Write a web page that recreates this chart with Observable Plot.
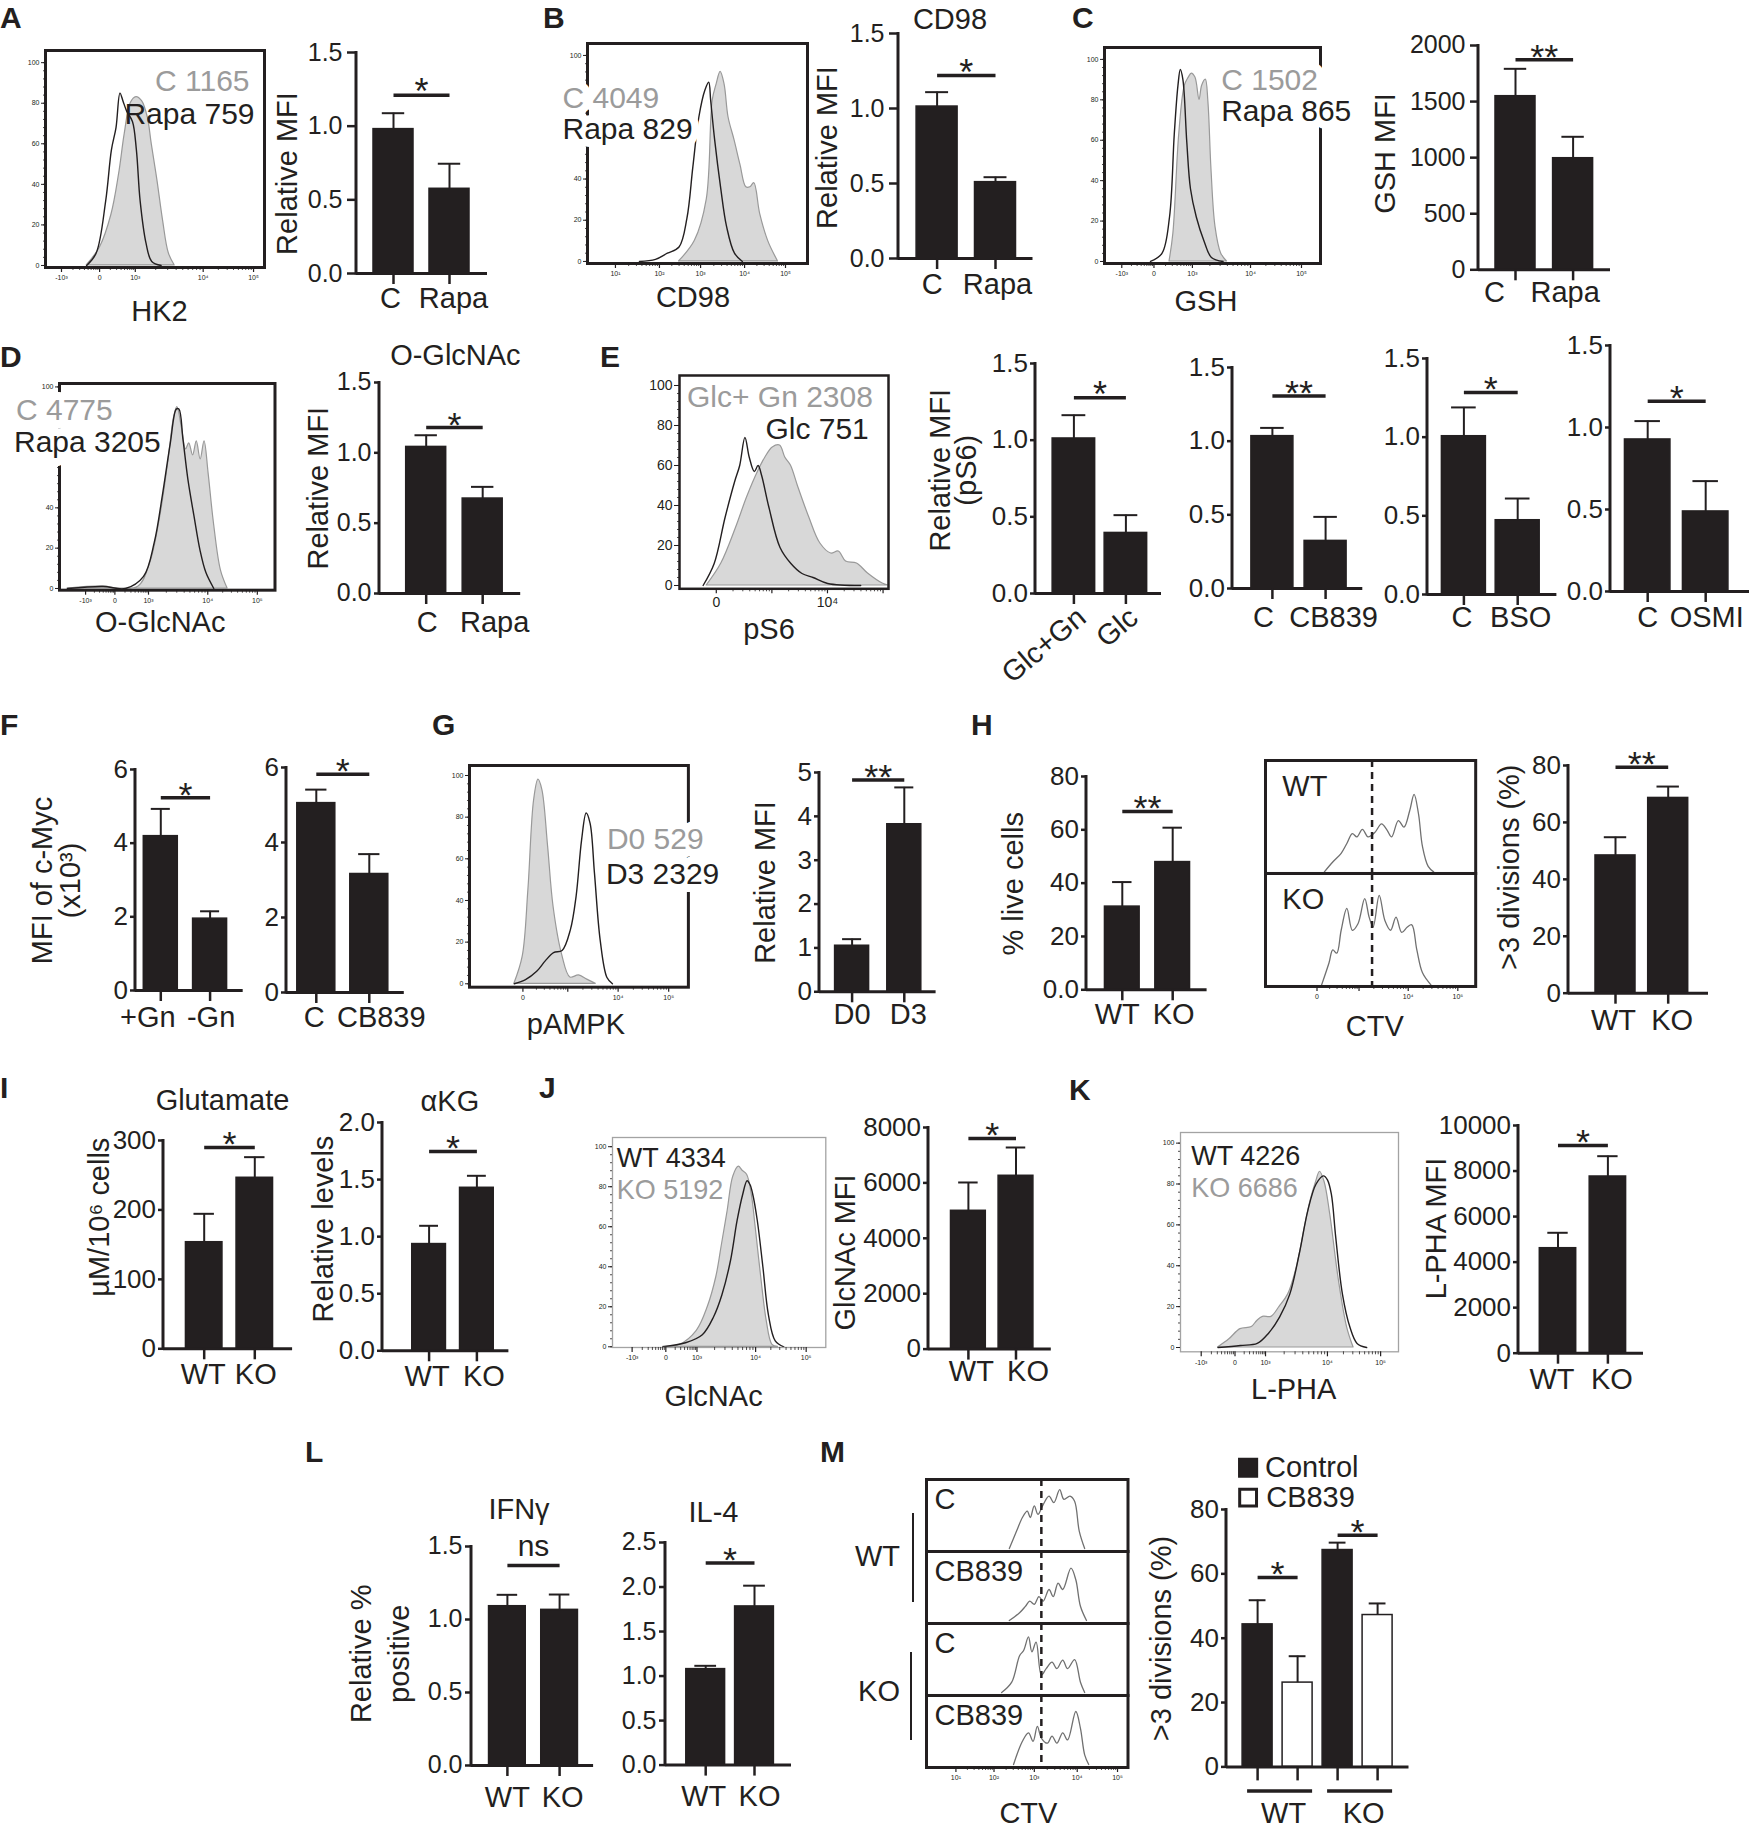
<!DOCTYPE html>
<html><head><meta charset="utf-8">
<script src="https://cdn.jsdelivr.net/npm/d3@7"></script>
<script src="https://cdn.jsdelivr.net/npm/@observablehq/plot@0.6"></script>
<style>
html,body{margin:0;padding:0;background:#fff;}
#fig{position:relative;width:1749px;height:1829px;overflow:hidden;background:#fff;font-family:"Liberation Sans",Arial,Helvetica,sans-serif;color:#231f20;}
.t{position:absolute;line-height:1;white-space:nowrap;}
.v{position:absolute;background:#231f20;}
</style></head><body><div id="fig"></div>
<script>
// ================= DATA =================
// categories
const catsCRapa = ["C", "Rapa"];
const catsWTKO = ["WT", "KO"];
const catsE1 = ["Glc+Gn", "Glc"];
const catsCB = ["C", "CB839"];
const catsBSO = ["C", "BSO"];
const catsOSMI = ["C", "OSMI"];
const catsGn = ["+Gn", "-Gn"];
const catsDay = ["D0", "D3"];
const catsM = ["WT Control", "WT CB839", "KO Control", "KO CB839"];
const fillM = ["#231f20", "#ffffff", "#231f20", "#ffffff"];
const seriesM = ["Control", "CB839"];
const groupsM = [{a: "WT Control", b: "WT CB839", label: "WT"}, {a: "KO Control", b: "KO CB839", label: "KO"}];

// bar means and error-bar tops (mean + SEM)
const meanA = [0.98, 0.575], topA = [1.088, 0.745];
const meanB = [1.013, 0.509], topB = [1.109, 0.542];
const meanC = [1548, 995], topC = [1792, 1186];
const meanD = [1.042, 0.675], topD = [1.125, 0.758];
const meanE1 = [1.011, 0.395], topE1 = [1.163, 0.511];
const meanE2 = [1.034, 0.323], topE2 = [1.09, 0.486];
const meanE3 = [1.006, 0.472], topE3 = [1.189, 0.61];
const meanE4 = [0.927, 0.488], topE4 = [1.039, 0.673];
const meanF1 = [4.19, 1.95], topF1 = [4.93, 2.15];
const meanF2 = [5.05, 3.16], topF2 = [5.41, 3.69];
const meanG = [1.05, 3.82], topG = [1.2, 4.66];
const meanH1 = [31.2, 47.9], topH1 = [40.4, 60.8];
const meanH3 = [48.4, 68.6], topH3 = [54.8, 72.6];
const meanI1 = [153.5, 246.3], topI1 = [194.4, 276];
const meanI2 = [0.935, 1.428], topI2 = [1.095, 1.533];
const meanJ = [4993, 6257], topJ = [6015, 7278];
const meanK = [4611, 7760], topK = [5288, 8652];
const meanL1 = [1.091, 1.066], topL1 = [1.169, 1.171];
const meanL2 = [1.078, 1.782], topL2 = [1.115, 2.015];
const meanM = [44.3, 26.2, 67.4, 47.2], topM = [51.8, 34.4, 69.7, 50.8];

// significance brackets
const sigA = [{a: "C", b: "Rapa", y: 1.21, label: "*"}];
const sigB = [{a: "C", b: "Rapa", y: 1.22, label: "*"}];
const sigC = [{a: "C", b: "Rapa", y: 1872, label: "**"}];
const sigD = [{a: "C", b: "Rapa", y: 1.18, label: "*"}];
const sigE1 = [{a: "Glc+Gn", b: "Glc", y: 1.276, label: "*"}];
const sigE2 = [{a: "C", b: "CB839", y: 1.307, label: "**"}];
const sigE3 = [{a: "C", b: "BSO", y: 1.284, label: "*"}];
const sigE4 = [{a: "C", b: "OSMI", y: 1.16, label: "*"}];
const sigF1 = [{a: "+Gn", b: "-Gn", y: 5.23, label: "*"}];
const sigF2 = [{a: "C", b: "CB839", y: 5.82, label: "*"}];
const sigG = [{a: "D0", b: "D3", y: 4.83, label: "**"}];
const sigH1 = [{a: "WT", b: "KO", y: 66.9, label: "**"}];
const sigH3 = [{a: "WT", b: "KO", y: 79.4, label: "**"}];
const sigI1 = [{a: "WT", b: "KO", y: 290, label: "*"}];
const sigI2 = [{a: "WT", b: "KO", y: 1.746, label: "*"}];
const sigJ = [{a: "WT", b: "KO", y: 7603, label: "*"}];
const sigK = [{a: "WT", b: "KO", y: 9122, label: "*"}];
const sigL1 = [{a: "WT", b: "KO", y: 1.37, label: "ns"}];
const sigL2 = [{a: "WT", b: "KO", y: 2.269, label: "*"}];
const sigM = [{a: "WT Control", b: "WT CB839", y: 58.9, label: "*"}, {a: "KO Control", b: "KO CB839", y: 72.0, label: "*"}];

// y tick values
const t15 = [0, 0.5, 1, 1.5];
const t20 = [0, 0.5, 1, 1.5, 2];
const t25 = [0, 0.5, 1, 1.5, 2, 2.5];
const t2000 = [0, 500, 1000, 1500, 2000];
const t6 = [0, 2, 4, 6];
const t5 = [0, 1, 2, 3, 4, 5];
const t80 = [0, 20, 40, 60, 80];
const t300 = [0, 100, 200, 300];
const t8000 = [0, 2000, 4000, 6000, 8000];
const t10000 = [0, 2000, 4000, 6000, 8000, 10000];
const histYTicks = [0, 20, 40, 60, 80, 100];
const histYTicksCovered = [0, 20, 40, 100];   // 60 and 80 hidden behind the legend text
const histYMinor = d3.range(0, 101, 4);

// histogram x tick positions (channel %) and labels
const lblNeg = ["-10³", "0", "10³", "10⁴", "10⁵"];
const lblLog = ["10¹", "10²", "10³", "10⁴", "10⁵"];
const xtA = [7.3, 24.7, 41, 72, 95];
const xtB = [12.7, 32.7, 51.4, 71.4, 90];
const xtC = [8, 22.9, 40.7, 67.6, 91.2];
const xtD = [12.1, 25.7, 41.3, 68.8, 91.8];
const xtE = [17.6, 44.2, 70.8, 97.4], xlE = ["0", "", "10⁴", ""];
const xtG = [24.4, 44.9, 67.9, 91], xlG = ["0", "", "10⁴", "10⁵"];
const xtJ = [9.2, 25, 39.6, 67.1, 90.8];
const xtK = [9.5, 25, 39, 67.4, 91.8];
const xtH = [24.5, 44.5, 67.9, 91.5], xlH = ["0", "", "10⁴", "10⁵"];
const xtM = [14.6, 33.5, 53.5, 74.8, 94.8];
const gateH = [50.7], gateM = [57];

// histogram curves: [channel %, % of max]
const histA_C = [[18.8,0],[24.9,9],[30.1,25],[33.6,45],[36.2,65],[38.9,80],[41.5,83],[44.1,81],[46.7,73],[48.5,60],[51.1,42],[53.7,22],[56.3,6],[59,0]];
const histA_Rapa = [[18.8,0],[23.1,6],[27.5,32],[30.1,57],[32.2,68],[34,85],[35.4,81],[37.1,76],[39.7,71],[41.5,57],[43.2,32],[45.9,11],[48.5,2],[52.8,0]];
const histB_C = [[41.6,0],[48.8,10],[54.2,30],[56.9,78],[58.7,86],[60.5,92],[62.3,86],[64.1,70],[66.8,59],[69.5,47],[72.2,36],[74,36],[75.8,38],[78.5,23],[82.1,10],[86.6,0]];
const histB_Rapa = [[23.6,0],[30.9,1],[36.3,4],[41.6,7],[45.2,21],[47.9,46],[50.6,70],[53.3,83],[55.1,87],[56,78],[57.8,59],[60.5,36],[63.2,17],[66.8,4],[70.4,0]];
const histC_C = [[30.1,0],[31.9,14],[34.6,63],[37.2,87],[39,91],[40.4,93],[42.1,91],[44,80],[45.2,87],[46.9,90],[48.1,79],[49.5,46],[51.4,17],[54,4],[56.7,0]];
const histC_Rapa = [[21.3,0],[26.6,4],[30.1,22],[32.3,63],[34,87],[35.1,95],[36.3,90],[38.1,59],[39.8,36],[42.5,22],[46.1,10],[49.5,2],[54.9,0]];
const histD_C = [[3.7,0],[20.2,1],[27.5,0],[36.7,1],[42.2,13],[46.8,36],[50.4,62],[53.2,85],[54.7,90],[56.9,79],[58.7,69],[60.2,72],[62,66],[63.7,73],[65.5,64],[67.3,73],[69.2,57],[71.6,33],[74.9,9],[78,0]];
const histD_Rapa = [[3.7,0],[20.2,1],[30.6,0],[39,6],[44,23],[47.7,46],[51.4,72],[54.2,89],[55.4,89],[57.3,74],[59.6,54],[62.4,36],[65.2,19],[67.9,8],[71.6,0]];
const histE_GlcGn = [[13,0],[20,11],[27.1,29],[32.3,44],[37.6,57],[41.1,64],[44.6,69],[48.1,70],[50.6,64],[53.3,60],[56.9,49],[62.1,34],[67.4,21],[72.6,16],[76.2,17],[79.7,12],[84.9,11],[90.2,6],[97.2,1],[100,0]];
const histE_Glc = [[11.3,0],[16.6,11],[21.8,34],[26.4,52],[28.8,60],[31.3,74],[33.4,64],[35.8,57],[37.6,60],[39.3,55],[42.8,39],[48.1,19],[53.3,11],[58.6,6],[63.9,4],[70.9,1],[86.7,0]];
const histG_D0 = [[20.5,0],[24.3,13],[26.9,45],[29.5,88],[31.5,98],[33.3,93],[35.9,66],[38.4,37],[42.3,14],[46.1,3],[50,4],[53.8,2],[57.7,0]];
const histG_D3 = [[20.5,0],[25.6,2],[30.7,6],[34.6,11],[38.4,15],[42.3,16],[46.1,26],[48.7,42],[51.2,69],[53.3,82],[55.1,77],[57.1,53],[59.7,21],[62.8,3],[65.3,0]];
const histJ_KO = [[23.7,0],[31.6,1],[39.5,8],[44.7,20],[48.7,35],[51.3,51],[54,68],[56.6,85],[59.2,90],[61,88],[63.1,86],[65.3,76],[67.1,60],[69.7,35],[72.3,13],[75,1],[77.6,0]];
const histJ_WT = [[23.7,0],[34.2,2],[42.1,6],[47.4,15],[51.3,26],[55.3,43],[58.4,63],[61,76],[63.1,83],[64.5,81],[65.8,76],[67.9,63],[70.5,40],[73.1,16],[76.3,3],[80.3,0]];
const histK_KO = [[17.2,0],[22.4,4],[27.5,9],[32.7,10],[35.2,13],[37.8,15],[41.7,15],[45.5,20],[49.4,26],[53.3,39],[57.1,59],[59.7,72],[62.2,81],[64,86],[66.1,81],[68.7,65],[72.5,34],[76.4,10],[79.4,0]];
const histK_WT = [[17.2,0],[27.5,1],[35.2,2],[40.4,7],[45.5,15],[50.1,26],[54.5,46],[58.4,67],[62.2,80],[65.6,84],[67.4,82],[69.2,75],[71.2,54],[74.3,26],[77.7,10],[81,2],[85.4,0]];
const ctvH_WT = [[28,0],[32,9],[36,17],[38.7,26],[41.3,35],[43.5,32],[46.1,39],[48.8,32],[52,36],[55.2,44],[57.9,38],[60,32],[63.2,47],[65.9,41],[68.6,56],[70.7,71],[72.8,53],[74.7,23],[77.4,5],[80,0]];
const ctvH_KO = [[26.7,0],[30.2,20],[32,32],[33.9,29],[36,50],[38.7,70],[41.3,50],[44,56],[47.2,79],[49.3,62],[51.2,53],[54.1,82],[56.8,59],[59.5,50],[62.1,62],[64.8,48],[67.5,53],[69.6,55],[72,32],[74.7,11],[78.7,0]];
const ctvM_WT_C = [[41.1,0],[44.7,27],[47.6,48],[50,58],[51.5,48],[53.5,66],[55.3,53],[57.9,68],[60.8,81],[63.2,71],[66.1,91],[68.2,76],[71.2,81],[73.5,73],[75.8,27],[78.5,0]];
const ctvM_WT_CB = [[41.1,0],[46.2,12],[49.1,22],[51.2,30],[53.5,25],[55.8,37],[57.9,30],[60.8,48],[62.9,37],[65.3,58],[67.6,48],[71.7,81],[74.1,63],[76.4,22],[79.4,0]];
const ctvM_KO_C = [[37.3,0],[42.3,16],[46.2,57],[48.2,65],[50.6,86],[52.3,63],[54.4,78],[57,27],[59.4,37],[62.3,47],[64.7,37],[67.6,50],[70,37],[73.5,51],[76.4,16],[78.5,0]];
const ctvM_KO_CB = [[43.2,0],[47.6,36],[50.6,49],[52.9,36],[55,59],[57,41],[60,33],[62.3,44],[64.7,33],[67.6,49],[70,38],[74.1,82],[76.4,56],[78.5,15],[80.5,0]];

// ================= STYLE / HELPERS =================
const INK = "#231f20", GRAYT = "#9b9b9b", FILL = "#d8d8d8", FILLLINE = "#999999";
const FONT = '"Liberation Sans", Arial, Helvetica, sans-serif';
const STYLE = {background: "transparent", overflow: "visible", maxWidth: "none", fontFamily: FONT, color: INK};
const f1 = d3.format(".1f");
const fi = d => String(d);
const fig = document.getElementById("fig");

function put(node, left, top) {
  node.style.position = "absolute";
  node.style.left = left + "px";
  node.style.top = top + "px";
  fig.appendChild(node);
}
function hText(s, x, base, size, opt = {}) {
  const d = document.createElement("div");
  d.className = "t";
  d.textContent = s;
  d.style.fontSize = size + "px";
  d.style.fontWeight = opt.weight || "normal";
  d.style.color = opt.color || INK;
  d.style.left = x + "px";
  d.style.top = (base - 0.8465 * size) + "px";
  if (opt.anchor === "end") d.style.transform = "translateX(-100%)";
  fig.appendChild(d);
}
function vLine(x, y1, y2, w) {
  const d = document.createElement("div");
  d.className = "v";
  d.style.left = (x - w / 2) + "px";
  d.style.top = y1 + "px";
  d.style.width = w + "px";
  d.style.height = (y2 - y1) + "px";
  fig.appendChild(d);
}
function leftLine(sw) {
  return (index, scales, values, dims) => {
    const x = dims.marginLeft;
    return d3.create("svg:line").attr("x1", x).attr("x2", x)
      .attr("y1", dims.marginTop - 1).attr("y2", dims.height - dims.marginBottom + sw / 2)
      .attr("stroke", INK).attr("stroke-width", sw).node();
  };
}
function minorTicks(major) {
  const out = [];
  for (let i = 0; i + 1 < major.length; i++) {
    const p0 = major[i], p1 = major[i + 1];
    for (let k = 2; k < 10; k++) out.push(p0 + (p1 - p0) * Math.log10(k));
  }
  return out;
}

// ---------- bar chart panel ----------
function barPanel(L, D) {
  const ML = 170, MR = 30, MT = 100, MB = 90;
  const left = L.ax - ML, top = L.yt - MT;
  const width = ML + (L.xr - L.ax) + MR, height = MT + (L.y0 - L.yt) + MB;
  const n = D.cats.length;
  const pad = 1 - L.bw / L.step;
  const r0 = L.c1 - L.step / 2 - left;
  const rows = D.cats.map((c, i) => ({cat: c, v: D.mean[i], hi: D.top[i], fill: D.fill ? D.fill[i] : INK}));
  const cf = 29;
  const marks = [
    Plot.barY(rows, {x: "cat", y: "v", fill: "fill", stroke: INK, strokeWidth: 1.5}),
    Plot.ruleX(rows, {x: "cat", y1: "v", y2: "hi", stroke: INK, strokeWidth: 2}),
    Plot.tickY(rows, {x: "cat", y: "hi", stroke: INK, strokeWidth: 2, insetLeft: L.bw * 0.22, insetRight: L.bw * 0.22}),
    Plot.ruleY([0], {stroke: INK, strokeWidth: 3}),
    leftLine(3),
    Plot.axisY({ticks: D.ticks, tickFormat: D.fmt, tickSize: L.ytk ?? 5, tickPadding: L.ypad ?? 2.5, fontSize: L.tf ?? 26, strokeWidth: 2.5, label: null}),
    Plot.axisX({tickSize: L.xtk ?? 11, tickFormat: () => "", strokeWidth: 2.5, label: null})
  ];
  if (!D.hideCats) {
    D.cats.forEach((c, i) => {
      const dx = L.labDx ? L.labDx[i] : 0;
      if (L.rot) {
        marks.push(Plot.text([c], {x: d => d, text: d => d, frameAnchor: "bottom", dx: dx + 8, dy: 20, rotate: L.rot, textAnchor: "end", lineAnchor: "middle", fontSize: cf, fill: INK}));
      } else {
        marks.push(Plot.text([c], {x: d => d, text: d => d, frameAnchor: "bottom", dx, dy: L.cb - L.y0, textAnchor: "middle", lineAnchor: "bottom", fontSize: cf, fill: INK}));
      }
    });
  }
  if (D.sig) {
    const ia = D.cats.indexOf(D.sig[0].a), ib = D.cats.indexOf(D.sig[0].b);
    const half = (ib - ia) * L.step / 2;
    const ns = D.sig[0].label === "ns";
    marks.push(Plot.link(D.sig, {x1: "a", x2: "b", y1: "y", y2: "y", stroke: INK, strokeWidth: 3.5}));
    marks.push(Plot.text(D.sig, {x: "a", y: "y", text: "label", dx: half, dy: ns ? -9 : 9, lineAnchor: "bottom", fontSize: ns ? 30 : 36, fill: INK}));
  }
  if (D.title) marks.push(Plot.text([D.title], {frameAnchor: "top-left", dx: L.ttx - L.ax, dy: L.tty - L.yt, text: d => d, textAnchor: "middle", lineAnchor: "bottom", fontSize: 29, fill: INK}));
  if (D.ytitle) marks.push(Plot.text([D.ytitle], {frameAnchor: "top-left", dx: L.ytx - L.ax, dy: L.yty - L.yt, text: d => d, rotate: -90, textAnchor: "middle", lineAnchor: "middle", lineHeight: L.ylh ?? 1, fontSize: 29, fill: INK}));
  if (D.extra) marks.push(...D.extra(L));
  const svg = Plot.plot({
    width, height, marginLeft: ML, marginRight: MR, marginTop: MT, marginBottom: MB,
    x: {type: "band", domain: D.cats, range: [r0, r0 + n * L.step], paddingInner: pad, paddingOuter: pad / 2, align: 0.5, round: false, axis: null},
    y: {domain: [0, D.ymax], axis: null},
    color: {type: "identity"},
    style: STYLE,
    marks
  });
  put(svg, left, top);
}

// ---------- flow histogram panel ----------
function histPanel(L, D) {
  const ML = 80, MR = 20, MT = 20, MB = 90;
  const left = L.l - ML, top = L.t - MT;
  const width = ML + (L.r - L.l) + MR, height = MT + (L.b - L.t) + MB;
  const lab = new Map(D.xt.map((p, i) => [p, D.xl[i]]));
  const marks = [];
  for (const c of D.curves) {
    if (c.filled) marks.push(Plot.areaY(c.data, {x: d => d[0], y: d => d[1], fill: FILL, stroke: FILLLINE, strokeWidth: 1.2, curve: "catmull-rom"}));
    else marks.push(Plot.lineY(c.data, {x: d => d[0], y: d => d[1], stroke: INK, strokeWidth: 1.4, curve: "catmull-rom"}));
  }
  marks.push(Plot.frame({stroke: L.fc ?? INK, strokeWidth: L.fw ?? 3}));
  const yfs = L.yfs ?? 7, xfs = L.xfs ?? 7;
  marks.push(Plot.axisY({ticks: D.yt ?? histYTicks, tickSize: L.ytk ?? 4, tickPadding: 2, fontSize: yfs, strokeWidth: 1, label: null}));
  marks.push(Plot.axisY({ticks: histYMinor, tickSize: 2, tickFormat: () => "", strokeWidth: 0.8, label: null}));
  marks.push(Plot.axisX({ticks: D.xt, tickFormat: d => lab.get(d), tickSize: 5, tickPadding: 3, fontSize: xfs, strokeWidth: 1.2, label: null}));
  marks.push(Plot.axisX({ticks: minorTicks(D.xt), tickSize: 3, tickFormat: () => "", strokeWidth: 0.8, label: null}));
  for (const t of L.texts) {
    const o = {frameAnchor: "top-left", dx: t.x - L.l, dy: t.y - L.t, text: d => d, textAnchor: t.a ?? "start", lineAnchor: "bottom", fontSize: L.tfs ?? 30, fill: t.c};
    if (t.halo) { o.stroke = "white"; o.strokeWidth = 16; }
    marks.push(Plot.text([t.s], o));
  }
  marks.push(Plot.text([D.xlabel], {frameAnchor: "top-left", dx: L.xlx - L.l, dy: L.xly - L.t, text: d => d, textAnchor: "middle", lineAnchor: "bottom", fontSize: 29, fill: INK}));
  const svg = Plot.plot({
    width, height, marginLeft: ML, marginRight: MR, marginTop: MT, marginBottom: MB,
    x: {domain: [0, 100], axis: null},
    y: {domain: L.ydom, axis: null},
    style: STYLE,
    marks
  });
  put(svg, left, top);
}

// ---------- stacked CTV panel (facets) ----------
function ctvPanel(L, D) {
  const ML = 20, MR = 20, MT = 10, MB = 80;
  const left = L.l - ML, top = L.t - MT;
  const width = ML + (L.r - L.l) + MR, height = MT + (L.b - L.t) + MB;
  const lab = new Map(D.xt.map((p, i) => [p, D.xl[i]]));
  const rows = D.keys.flatMap((k, i) => D.curves[i].map(([x, y]) => ({k, x, y})));
  const svg = Plot.plot({
    width, height, marginLeft: ML, marginRight: MR, marginTop: MT, marginBottom: MB,
    fy: {domain: D.keys, padding: 0, axis: null},
    x: {domain: [0, 100], axis: null},
    y: {domain: L.ydom, axis: null},
    style: STYLE,
    marks: [
      Plot.lineY(rows, {x: "x", y: "y", fy: "k", stroke: "#707070", strokeWidth: 1.3, curve: "catmull-rom"}),
      Plot.ruleX(D.gate, {stroke: INK, strokeWidth: 2.5, strokeDasharray: "7,5"}),
      Plot.frame({stroke: INK, strokeWidth: 3}),
      Plot.text(D.keys, {fy: d => d, text: (d, i) => D.labels[i], frameAnchor: "top-left", dx: L.labDx, dy: L.labDy, lineAnchor: "bottom", fontSize: 29, fill: INK}),
      Plot.axisX({ticks: D.xt, tickFormat: d => lab.get(d), tickSize: 5, tickPadding: 3, fontSize: 7, strokeWidth: 1.2, label: null, facetAnchor: "bottom"}),
      Plot.axisX({ticks: minorTicks(D.xt), tickSize: 3, tickFormat: () => "", strokeWidth: 0.8, label: null, facetAnchor: "bottom"}),
      Plot.text([D.xlabel], {frameAnchor: "bottom-left", dx: L.xlx - L.l, dy: L.xly - L.b, text: d => d, textAnchor: "middle", lineAnchor: "bottom", fontSize: 29, fill: INK, facetAnchor: "bottom"})
    ]
  });
  put(svg, left, top);
}

// ================= PANELS =================
const wide = {ytk: 9, ypad: 5, tf: 25};
// Row 1
histPanel({l: 45, t: 50, r: 264, b: 267, ydom: [-1, 106], xlx: 159, xly: 320,
  texts: [{s: "C 1165", c: GRAYT, x: 249, y: 90, a: "end"}, {s: "Rapa 759", c: INK, x: 254, y: 123, a: "end"}]},
  {curves: [{data: histA_C, filled: true}, {data: histA_Rapa}], xt: xtA, xl: lblNeg, xlabel: "HK2"});
barPanel({...wide, ax: 356, xr: 487, y0: 273, yt: 52, c1: 393, step: 56, bw: 40, cb: 307, ytx: 287, yty: 173, labDx: [-3, 4]},
  {cats: catsCRapa, mean: meanA, top: topA, ymax: 1.5, ticks: t15, fmt: f1, sig: sigA, ytitle: "Relative MFI"});

histPanel({l: 587, t: 43, r: 807, b: 263, ydom: [-1, 105.8], xlx: 692.5, xly: 306.7,
  texts: [{s: "C 4049", c: GRAYT, x: 562, y: 107, halo: true}, {s: "Rapa 829", c: INK, x: 562, y: 138, halo: true}]},
  {curves: [{data: histB_C, filled: true}, {data: histB_Rapa}], xt: xtB, xl: lblLog, yt: histYTicksCovered, xlabel: "CD98"});
barPanel({...wide, ax: 898, xr: 1032.5, y0: 258, yt: 33, c1: 936.6, step: 58.4, bw: 41, cb: 293, ytx: 827, yty: 147, ttx: 949.5, tty: 28, labDx: [-5, 2]},
  {cats: catsCRapa, mean: meanB, top: topB, ymax: 1.5, ticks: t15, fmt: f1, sig: sigB, ytitle: "Relative MFI", title: "CD98"});

histPanel({l: 1104, t: 47, r: 1320, b: 263, ydom: [-1, 105.9], xlx: 1205.4, xly: 310,
  texts: [{s: "C 1502", c: GRAYT, x: 1220.7, y: 89, halo: true}, {s: "Rapa 865", c: INK, x: 1220.7, y: 120, halo: true}]},
  {curves: [{data: histC_C, filled: true}, {data: histC_Rapa}], xt: xtC, xl: lblNeg, xlabel: "GSH"});
barPanel({...wide, ytk: 8, ax: 1478, xr: 1610, y0: 269.3, yt: 45, c1: 1515, step: 57.6, bw: 40, cb: 301.7, ytx: 1385, yty: 153, labDx: [-21, -8]},
  {cats: catsCRapa, mean: meanC, top: topC, ymax: 2000, ticks: t2000, fmt: fi, sig: sigC, ytitle: "GSH MFI"});

// Row 2
histPanel({l: 59.3, t: 383.3, r: 274.8, b: 590, ydom: [-0.85, 101.7], xlx: 160, xly: 631.7,
  texts: [{s: "C 4775", c: GRAYT, x: 15.8, y: 420, halo: true}, {s: "Rapa 3205", c: INK, x: 13.8, y: 452, halo: true}]},
  {curves: [{data: histD_C, filled: true}, {data: histD_Rapa}], xt: xtD, xl: lblNeg, yt: histYTicksCovered, xlabel: "O-GlcNAc"});
barPanel({ax: 378.8, xr: 520, y0: 593.3, yt: 382.3, c1: 425.5, step: 56.5, bw: 40, cb: 631.7, ytx: 318, yty: 488, ttx: 454.7, tty: 365, labDx: [1, 12], ytk: 5, ypad: 3, tf: 25},
  {cats: catsCRapa, mean: meanD, top: topD, ymax: 1.5, ticks: t15, fmt: f1, sig: sigD, ytitle: "Relative MFI", title: "O-GlcNAc"});

histPanel({l: 679, t: 375, r: 888, b: 588.3, ydom: [-1.65, 105], fw: 2.5, yfs: 14, xfs: 14, ytk: 5, xlx: 768.5, xly: 638.3,
  texts: [{s: "Glc+ Gn 2308", c: GRAYT, x: 686.5, y: 406.7}, {s: "Glc 751", c: INK, x: 764.9, y: 438.3}]},
  {curves: [{data: histE_GlcGn, filled: true}, {data: histE_Glc}], xt: xtE, xl: xlE, xlabel: "pS6"});
barPanel({ax: 1034.6, xr: 1160.6, y0: 593.3, yt: 363.3, c1: 1073, step: 52, bw: 42.5, rot: -40, ytx: 954, yty: 470, ylh: 0.9},
  {cats: catsE1, mean: meanE1, top: topE1, ymax: 1.5, ticks: t15, fmt: f1, sig: sigE1, ytitle: "Relative MFI\n(pS6)"});
barPanel({ax: 1231.7, xr: 1362, y0: 588.3, yt: 367.3, c1: 1271.6, step: 53.2, bw: 42, cb: 626.7, labDx: [-9, 8]},
  {cats: catsCB, mean: meanE2, top: topE2, ymax: 1.5, ticks: t15, fmt: f1, sig: sigE2});
barPanel({ax: 1426.6, xr: 1556, y0: 594.3, yt: 358.3, c1: 1463, step: 53.8, bw: 44, cb: 626.7, labDx: [-2, 3]},
  {cats: catsBSO, mean: meanE3, top: topE3, ymax: 1.5, ticks: t15, fmt: f1, sig: sigE3});
barPanel({ax: 1609.8, xr: 1749, y0: 591, yt: 345, c1: 1647, step: 58, bw: 45.5, cb: 626.7, labDx: [0, 1]},
  {cats: catsOSMI, mean: meanE4, top: topE4, ymax: 1.5, ticks: t15, fmt: f1, sig: sigE4});

// Row 3
barPanel({ax: 134.7, xr: 242.4, y0: 990, yt: 769, c1: 160, step: 49.3, bw: 34, cb: 1026.7, ytx: 56, yty: 880, ylh: 0.97, labDx: [-13, 1]},
  {cats: catsGn, mean: meanF1, top: topF1, ymax: 6, ticks: t6, fmt: fi, sig: sigF1, ytitle: "MFI of c-Myc\n(x10³)"});
barPanel({ax: 286.2, xr: 404, y0: 991.7, yt: 766.7, c1: 316, step: 53, bw: 38, cb: 1026.7, labDx: [-2, 12]},
  {cats: catsCB, mean: meanF2, top: topF2, ymax: 6, ticks: t6, fmt: fi, sig: sigF2});
histPanel({l: 468.6, t: 765, r: 687.5, b: 986.7, ydom: [-1.63, 104.8], xlx: 575, xly: 1033.3,
  texts: [{s: "D0 529", c: GRAYT, x: 606, y: 848.3, halo: true}, {s: "D3 2329", c: INK, x: 605, y: 883.3, halo: true}]},
  {curves: [{data: histG_D0, filled: true}, {data: histG_D3}], xt: xtG, xl: xlG, xlabel: "pAMPK"});
barPanel({ax: 819.4, xr: 936, y0: 991, yt: 771.7, c1: 852, step: 52.2, bw: 34, cb: 1023.3, ytx: 766, yty: 881.7, labDx: [0, 4]},
  {cats: catsDay, mean: meanG, top: topG, ymax: 5, ticks: t5, fmt: fi, sig: sigG, ytitle: "Relative MFI"});
barPanel({ax: 1085.8, xr: 1206.4, y0: 989.3, yt: 776, c1: 1121.6, step: 50.4, bw: 34.7, cb: 1023.3, ytx: 1013, yty: 883.3, labDx: [-5, 1]},
  {cats: catsWTKO, mean: meanH1, top: topH1, ymax: 80, ticks: t80, fmt: d => d === 0 ? "0.0" : String(d), sig: sigH1, ytitle: "% live cells"});
ctvPanel({l: 1265.2, t: 759.3, r: 1475.4, b: 986.7, ydom: [-1.5, 102], labDx: 16.8, labDy: 36, xlx: 1374.5, xly: 1036.7},
  {keys: ["WT", "KO"], labels: ["WT", "KO"], curves: [ctvH_WT, ctvH_KO], gate: gateH, xt: xtH, xl: xlH, xlabel: "CTV"});
barPanel({ax: 1568, xr: 1708, y0: 992.7, yt: 765, c1: 1615, step: 52.7, bw: 40, cb: 1030, ytx: 1509, yty: 866.7, labDx: [-2, 4]},
  {cats: catsWTKO, mean: meanH3, top: topH3, ymax: 80, ticks: t80, fmt: fi, sig: sigH3, ytitle: ">3 divisions (%)"});

// Row 4
barPanel({ax: 162.7, xr: 291.8, y0: 1348.3, yt: 1140, c1: 203.4, step: 50.6, bw: 36.5, cb: 1383.3, ytx: 99, yty: 1216.7, ttx: 221.7, tty: 1110, labDx: [-1, 1]},
  {cats: catsWTKO, mean: meanI1, top: topI1, ymax: 300, ticks: t300, fmt: fi, sig: sigI1, ytitle: "µM/10⁶ cells", title: "Glutamate"});
barPanel({ax: 381.6, xr: 508, y0: 1350, yt: 1121.7, c1: 428.2, step: 47.8, bw: 33.7, cb: 1385, ytx: 323, yty: 1228.3, ttx: 449, tty: 1110, labDx: [-2, 7]},
  {cats: catsWTKO, mean: meanI2, top: topI2, ymax: 2, ticks: t20, fmt: f1, sig: sigI2, ytitle: "Relative levels", title: "αKG"});
histPanel({l: 611.7, t: 1136.7, r: 825, b: 1346.7, ydom: [-0.35, 104.6], fc: "#a3a3a3", fw: 1.3, tfs: 27, xlx: 712.7, xly: 1405,
  texts: [{s: "WT 4334", c: INK, x: 616, y: 1166}, {s: "KO 5192", c: GRAYT, x: 616, y: 1198}]},
  {curves: [{data: histJ_KO, filled: true}, {data: histJ_WT}], xt: xtJ, xl: lblNeg, xlabel: "GlcNAc"});
barPanel({ax: 927.7, xr: 1050.5, y0: 1348.3, yt: 1126.7, c1: 967.6, step: 47.6, bw: 34.8, cb: 1380, ytx: 845, yty: 1251.7, labDx: [3, 12]},
  {cats: catsWTKO, mean: meanJ, top: topJ, ymax: 8000, ticks: t8000, fmt: fi, sig: sigJ, ytitle: "GlcNAc MFI"});
histPanel({l: 1180, t: 1131.7, r: 1398, b: 1351, ydom: [-2.1, 105.2], fc: "#a3a3a3", fw: 1.3, tfs: 27, xlx: 1293.2, xly: 1398.3,
  texts: [{s: "WT 4226", c: INK, x: 1190.7, y: 1164}, {s: "KO 6686", c: GRAYT, x: 1190.7, y: 1196}]},
  {curves: [{data: histK_KO, filled: true}, {data: histK_WT}], xt: xtK, xl: lblNeg, xlabel: "L-PHA"});
barPanel({ax: 1517.5, xr: 1642.5, y0: 1352.7, yt: 1125, c1: 1557, step: 49.9, bw: 36.4, cb: 1388.3, ytx: 1436, yty: 1228, labDx: [-6, 4]},
  {cats: catsWTKO, mean: meanK, top: topK, ymax: 10000, ticks: t10000, fmt: fi, sig: sigK, ytitle: "L-PHA MFI"});

// Row 5
barPanel({ax: 471.4, xr: 593.5, y0: 1765, yt: 1546, c1: 507.3, step: 52.2, bw: 36.7, cb: 1806.7, ytx: 378, yty: 1653.3, ylh: 1.28, ttx: 518.9, tty: 1518.3, labDx: [0, 3], ytk: 6, ypad: 3, tf: 25},
  {cats: catsWTKO, mean: meanL1, top: topL1, ymax: 1.5, ticks: t15, fmt: f1, sig: sigL1, ytitle: "Relative %\npositive", title: "IFNγ"});
barPanel({ax: 664.8, xr: 790.8, y0: 1764.3, yt: 1541.7, c1: 705, step: 48.8, bw: 38.8, cb: 1805, ttx: 712.8, tty: 1521.7, labDx: [-2, 5], ytk: 6, ypad: 3, tf: 25},
  {cats: catsWTKO, mean: meanL2, top: topL2, ymax: 2.5, ticks: t25, fmt: f1, sig: sigL2, title: "IL-4"});
ctvPanel({l: 925.5, t: 1478.3, r: 1127, b: 1767.7, ydom: [-4.6, 106.8], labDx: 8, labDy: 30, xlx: 1027.4, xly: 1823.3},
  {keys: ["WT C", "WT CB839", "KO C", "KO CB839"], labels: ["C", "CB839", "C", "CB839"], curves: [ctvM_WT_C, ctvM_WT_CB, ctvM_KO_C, ctvM_KO_CB], gate: gateM, xt: xtM, xl: lblLog, xlabel: "CTV"});
barPanel({ax: 1225.9, xr: 1408.4, y0: 1766.7, yt: 1509.3, c1: 1257, step: 40, bw: 30, xtk: 14, ytx: 1160.7, yty: 1638.3},
  {cats: catsM, mean: meanM, top: topM, fill: fillM, ymax: 80, ticks: t80, fmt: fi, sig: sigM, hideCats: true, ytitle: ">3 divisions (%)",
   extra: (L) => [
     Plot.dot([seriesM[0]], {frameAnchor: "top-left", dx: 1247.5 - L.ax, dy: 1467.5 - L.yt, symbol: "square", r: 10.5, fill: INK, stroke: INK, strokeWidth: 1.5}),
     Plot.dot([seriesM[1]], {frameAnchor: "top-left", dx: 1247.5 - L.ax, dy: 1497.5 - L.yt, symbol: "square", r: 9.5, fill: "white", stroke: INK, strokeWidth: 3}),
     Plot.text([seriesM[0]], {frameAnchor: "top-left", dx: 1264.4 - L.ax, dy: 1477.3 - L.yt, text: d => d, lineAnchor: "bottom", textAnchor: "start", fontSize: 29, fill: INK}),
     Plot.text([seriesM[1]], {frameAnchor: "top-left", dx: 1265.6 - L.ax, dy: 1507.3 - L.yt, text: d => d, lineAnchor: "bottom", textAnchor: "start", fontSize: 29, fill: INK}),
     Plot.ruleY(groupsM, {x1: "a", x2: "b", y: 0, dy: 24, stroke: INK, strokeWidth: 3.5, insetLeft: 5}),
     Plot.text(groupsM, {x: "a", y: 0, text: "label", dx: L.step / 2 + 6, dy: 56.6, lineAnchor: "bottom", textAnchor: "middle", fontSize: 29, fill: INK})
   ]});

// Panel letters and M group brackets
const letters = [["A", 0, 28], ["B", 543, 28], ["C", 1072, 28], ["D", 0, 367], ["E", 600, 367], ["F", 0, 735], ["G", 432, 735], ["H", 971, 735], ["I", 0, 1098], ["J", 539, 1098], ["K", 1069, 1100], ["L", 305, 1462], ["M", 820, 1462]];
for (const [s, x, y] of letters) hText(s, x, y, 30, {weight: "bold"});
hText("WT", 900, 1566.7, 29, {anchor: "end"});
vLine(913, 1513.3, 1601.7, 2.5);
hText("KO", 900, 1701.7, 29, {anchor: "end"});
vLine(911, 1651.7, 1740, 2.5);
</script></body></html>
